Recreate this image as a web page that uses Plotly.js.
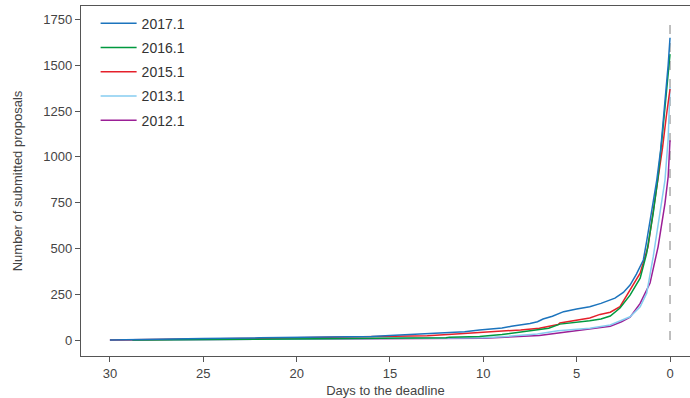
<!DOCTYPE html>
<html>
<head>
<meta charset="utf-8">
<script src="https://cdn.plot.ly/plotly-3.0.1.min.js"></script>
<style>html,body{margin:0;padding:0;background:#fff}#chart{width:690px;height:398px}</style>
</head>
<body>
<div id="chart"></div>
<script>
// Days to the deadline and cumulative submitted proposals per call
var days2017 = [30, 28, 25, 22, 19, 16, 15, 14, 13, 12, 11, 10.2, 9.5, 9, 8.5, 8, 7.5, 7.1, 6.8, 6.3, 5.7, 5, 4.3, 3.7, 3.2, 2.95, 2.5, 2.14, 1.8, 1.43, 1.25, 1.07, 0.9, 0.71, 0.5, 0.27, 0.1, 0];
var vals2017 = [0, 4, 8, 12, 15, 20, 25, 30, 36, 40, 45, 55, 60, 66, 75, 82, 90, 100, 115, 130, 155, 170, 182, 200, 222, 229, 260, 300, 360, 437, 540, 655, 760, 873, 1040, 1293, 1500, 1650];

var days2016 = [28.8, 25, 20, 16, 14, 12, 11.8, 10.2, 9, 8, 7.1, 6.5, 5.9, 5, 4.3, 3.7, 3.2, 2.68, 2.14, 1.6, 1.25, 0.9, 0.64, 0.4, 0.2, 0];
var vals2016 = [0, 2, 4, 6, 8, 12, 16, 20, 30, 45, 55, 65, 87, 95, 105, 115, 131, 175, 245, 338, 474, 693, 890, 1130, 1350, 1560];

var days2015 = [30, 27, 23, 20, 17, 15, 13, 11.25, 10, 9, 8, 7, 6, 5.9, 5, 4.3, 3.75, 3.2, 2.68, 2.14, 1.6, 1.18, 0.7, 0.4, 0.2, 0];
var vals2015 = [0, 5, 8, 12, 16, 20, 24, 35, 42, 50, 55, 65, 85, 93, 108, 120, 140, 152, 182, 273, 365, 509, 837, 1050, 1220, 1370];

var days2013 = [30, 25, 20, 15, 12, 10, 9, 8, 7.1, 6, 5, 4.3, 3.2, 2.95, 2.14, 1.6, 1.25, 0.9, 0.54, 0.27, 0.1, 0];
var vals2013 = [0, 3, 5, 8, 10, 13, 18, 25, 33, 51, 58, 65, 82, 92, 127, 182, 256, 455, 693, 873, 1100, 1380];

var days2012 = [30, 25, 20, 15, 10, 7, 5, 3.2, 2.6, 2.14, 1.6, 1.07, 0.64, 0.27, 0.1, 0];
var vals2012 = [0, 2, 4, 6, 10, 25, 50, 75, 100, 125, 200, 311, 509, 746, 891, 1090];

var seriesNames = ['2012.1', '2013.1', '2015.1', '2016.1', '2017.1'];
var seriesColors = ['#9b1f96', '#86cdf0', '#e5202b', '#00993f', '#1c74bd'];
var seriesDays = [days2012, days2013, days2015, days2016, days2017];
var seriesVals = [vals2012, vals2013, vals2015, vals2016, vals2017];

var deadlineDay = 0;
var xTicks = [30, 25, 20, 15, 10, 5, 0];
var yTicks = [0, 250, 500, 750, 1000, 1250, 1500, 1750];

var traces = seriesNames.map(function (n, i) {
  return {
    x: seriesDays[i], y: seriesVals[i], name: n, legendgroup: n,
    legendrank: 1000 + (seriesNames.length - i), type: 'scatter', mode: 'lines',
    line: {color: seriesColors[i], width: 1.5, shape: 'linear'}
  };
});

var font = {family: 'Liberation Sans, Arial, sans-serif', size: 13, color: '#444'};

var layout = {
  width: 690, height: 398,
  margin: {l: 81, r: 0, t: 6, b: 42},
  paper_bgcolor: '#fff', plot_bgcolor: '#fff',
  font: font,
  showlegend: true,
  legend: {
    x: 0.024, y: 0.995, xanchor: 'left', yanchor: 'top',
    traceorder: 'grouped', tracegroupgap: 3, itemwidth: 36, bgcolor: 'rgba(0,0,0,0)',
    font: {family: font.family, size: 14, color: '#333'}
  },
  xaxis: {
    range: [31.55, -1.07], tickvals: xTicks, ticktext: xTicks.map(String),
    showgrid: false, zeroline: false, showline: true, mirror: true,
    linecolor: '#555', linewidth: 1.2, ticks: 'outside', ticklen: 5, tickcolor: '#555',
    tickfont: font,
    title: {text: 'Days to the deadline', font: font, standoff: 6}
  },
  yaxis: {
    range: [-87, 1823], tickvals: yTicks, ticktext: yTicks.map(String),
    showgrid: false, zeroline: false, showline: true,
    linecolor: '#555', linewidth: 1.2, ticks: 'outside', ticklen: 5, tickcolor: '#555',
    tickfont: font,
    title: {text: 'Number of submitted proposals', font: font, standoff: 17}
  },
  shapes: [{
    type: 'line', xref: 'x', yref: 'y', x0: deadlineDay, x1: deadlineDay, y0: 0, y1: 1730,
    line: {color: '#aaa', width: 1.5, dash: 'dash'}, layer: 'below'
  }]
};

Plotly.newPlot('chart', traces, layout, {displayModeBar: false, staticPlot: true});
</script>
</body>
</html>
